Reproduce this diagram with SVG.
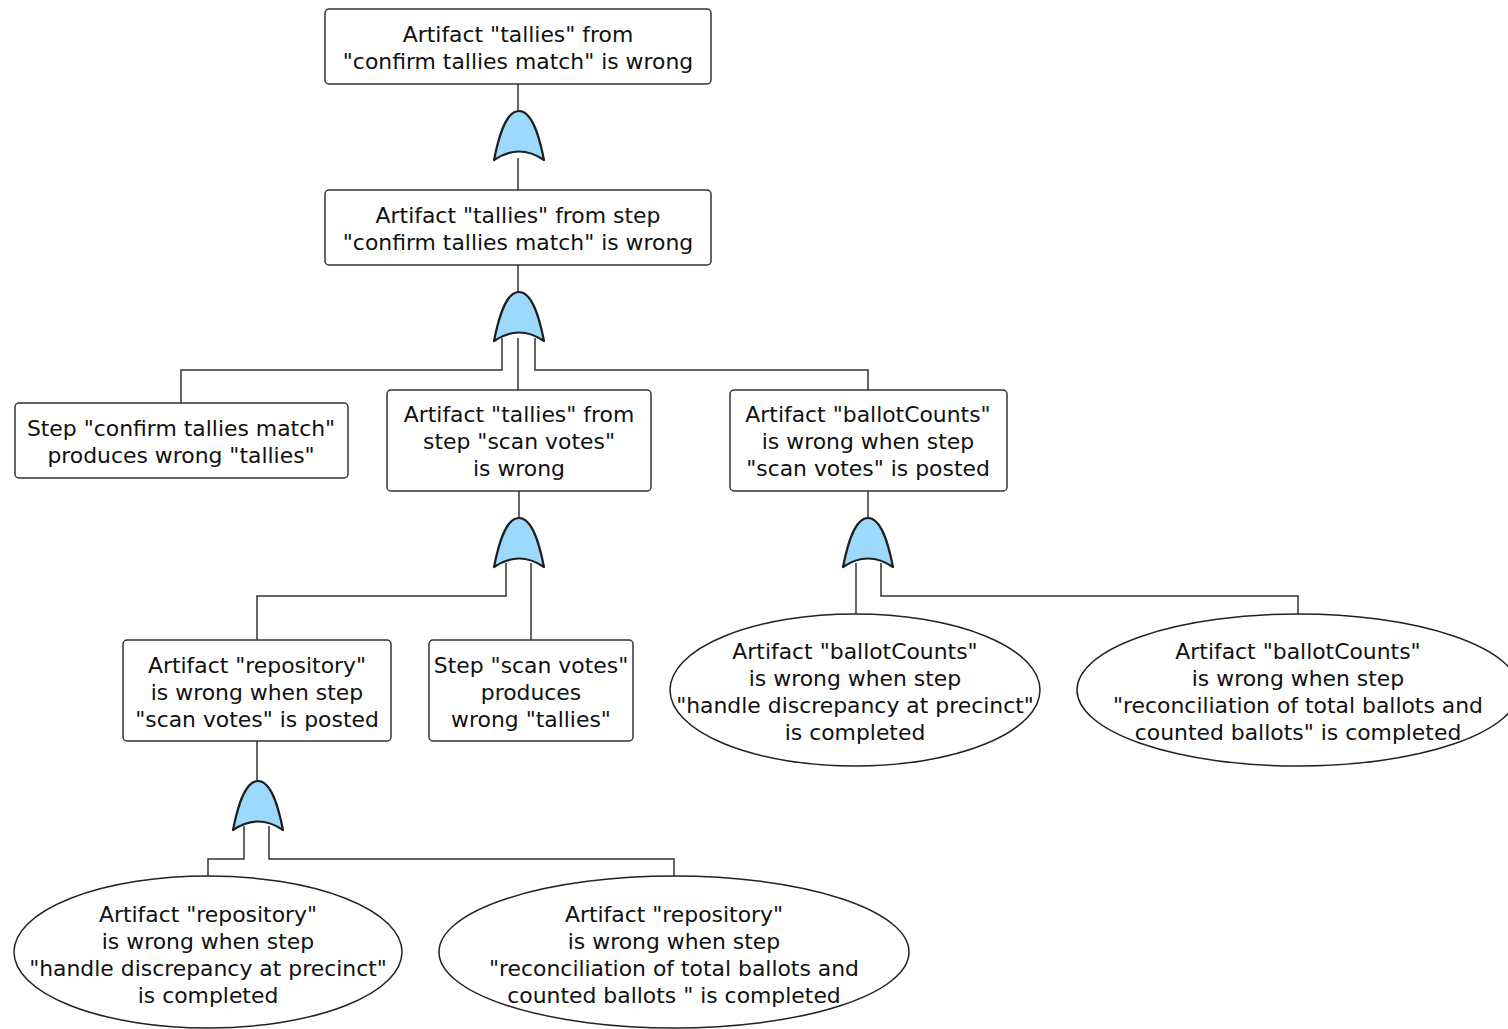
<svg xmlns="http://www.w3.org/2000/svg" xmlns:xlink="http://www.w3.org/1999/xlink" width="1508" height="1029" viewBox="0 0 1508 1029">
  <style>
    .box { fill: #ffffff; stroke: #333333; stroke-width: 1.5; }
    .ev { fill: #ffffff; stroke: #222222; stroke-width: 1.5; }
    .wire { fill: none; stroke: #333333; stroke-width: 1.5; }
    .gate { fill: #9dd8fd; stroke: #1e1e1e; stroke-width: 2.2; stroke-linejoin: round; }
    text { font-family: "DejaVu Sans", "Liberation Sans", sans-serif; font-size: 21.9px; fill: #111111; text-anchor: middle; }
  </style>
  <defs>
    <!-- OR gate, origin at apex -->
    <path id="orgate" class="gate" d="M-25,49 C-21,29 -14,0 0,0 C14,0 21,29 25,49 Q0,32 -25,49 Z"/>
  </defs>
  <rect width="1508" height="1029" fill="#ffffff"/>

  <g id="connectors">
    <path class="wire" d="M518,84 V112"/>
    <path class="wire" d="M518,158 V190"/>
    <path class="wire" d="M518,265 V293"/>
    <path class="wire" d="M502,338 V370 H181 V403"/>
    <path class="wire" d="M518,338 V390"/>
    <path class="wire" d="M535,338 V370 H868 V390"/>
    <path class="wire" d="M519,491 V519"/>
    <path class="wire" d="M506,563 V596 H257 V640"/>
    <path class="wire" d="M531,563 V640"/>
    <path class="wire" d="M868,491 V519"/>
    <path class="wire" d="M856,563 V615"/>
    <path class="wire" d="M881,563 V596 H1298 V615"/>
    <path class="wire" d="M257,741 V781"/>
    <path class="wire" d="M244,826 V859 H208 V876"/>
    <path class="wire" d="M269,826 V859 H674 V876"/>
  </g>

  <g id="gates">
    <use xlink:href="#orgate" x="519" y="111"/>
    <use xlink:href="#orgate" x="519" y="292"/>
    <use xlink:href="#orgate" x="519" y="518"/>
    <use xlink:href="#orgate" x="868" y="518"/>
    <use xlink:href="#orgate" x="258" y="781"/>
  </g>

  <g id="top-event">
    <rect class="box" x="325" y="9" width="386" height="75" rx="4"/>
    <text x="518" y="42">Artifact "tallies" from</text>
    <text x="518" y="69">"confirm tallies match" is wrong</text>
  </g>

  <g id="tallies-from-step">
    <rect class="box" x="325" y="190" width="386" height="75" rx="4"/>
    <text x="518" y="223">Artifact "tallies" from step</text>
    <text x="518" y="250">"confirm tallies match" is wrong</text>
  </g>

  <g id="step-confirm">
    <rect class="box" x="15" y="403" width="333" height="75" rx="4"/>
    <text x="181" y="436">Step "confirm tallies match"</text>
    <text x="181" y="463">produces wrong "tallies"</text>
  </g>

  <g id="tallies-scan">
    <rect class="box" x="387" y="390" width="264" height="101" rx="4"/>
    <text x="519" y="422">Artifact "tallies" from</text>
    <text x="519" y="449">step "scan votes"</text>
    <text x="519" y="476">is wrong</text>
  </g>

  <g id="ballotcounts-posted">
    <rect class="box" x="730" y="390" width="277" height="101" rx="4"/>
    <text x="868" y="422">Artifact "ballotCounts"</text>
    <text x="868" y="449">is wrong when step</text>
    <text x="868" y="476">"scan votes" is posted</text>
  </g>

  <g id="repository-posted">
    <rect class="box" x="123" y="640" width="268" height="101" rx="4"/>
    <text x="257" y="673">Artifact "repository"</text>
    <text x="257" y="700">is wrong when step</text>
    <text x="257" y="727">"scan votes" is posted</text>
  </g>

  <g id="step-scan">
    <rect class="box" x="429" y="640" width="204" height="101" rx="4"/>
    <text x="531" y="673">Step "scan votes"</text>
    <text x="531" y="700">produces</text>
    <text x="531" y="727">wrong "tallies"</text>
  </g>

  <g id="ballotcounts-handle">
    <ellipse class="ev" cx="855" cy="690" rx="185" ry="76"/>
    <text x="855" y="659">Artifact "ballotCounts"</text>
    <text x="855" y="686">is wrong when step</text>
    <text x="855" y="713">"handle discrepancy at precinct"</text>
    <text x="855" y="740">is completed</text>
  </g>

  <g id="ballotcounts-reconcile">
    <ellipse class="ev" cx="1298" cy="690" rx="221" ry="76"/>
    <text x="1298" y="659">Artifact "ballotCounts"</text>
    <text x="1298" y="686">is wrong when step</text>
    <text x="1298" y="713">"reconciliation of total ballots and</text>
    <text x="1298" y="740">counted ballots" is completed</text>
  </g>

  <g id="repository-handle">
    <ellipse class="ev" cx="208" cy="952" rx="194" ry="76"/>
    <text x="208" y="922">Artifact "repository"</text>
    <text x="208" y="949">is wrong when step</text>
    <text x="208" y="976">"handle discrepancy at precinct"</text>
    <text x="208" y="1003">is completed</text>
  </g>

  <g id="repository-reconcile">
    <ellipse class="ev" cx="674" cy="952" rx="235" ry="76"/>
    <text x="674" y="922">Artifact "repository"</text>
    <text x="674" y="949">is wrong when step</text>
    <text x="674" y="976">"reconciliation of total ballots and</text>
    <text x="674" y="1003">counted ballots " is completed</text>
  </g>
</svg>
